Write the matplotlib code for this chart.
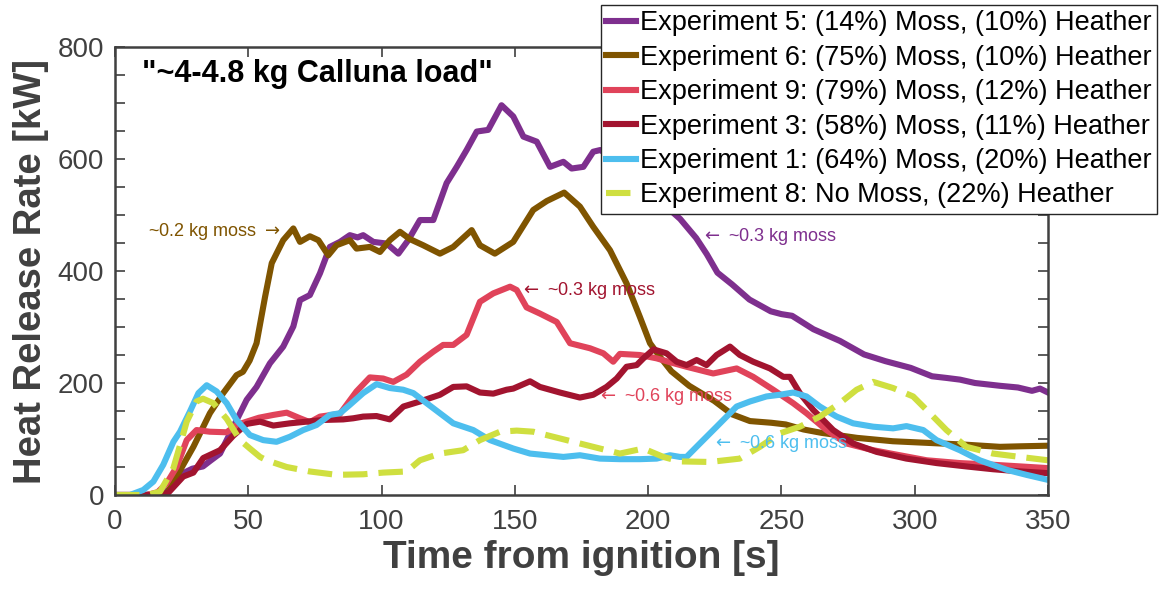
import matplotlib
matplotlib.use("Agg")
import matplotlib.pyplot as plt
from matplotlib.ticker import MultipleLocator

plt.rcParams['font.family'] = ['Liberation Sans', 'DejaVu Sans']

# Experiment 5: (14%) Moss, (10%) Heather
t5 = [0, 10, 17, 20.6, 25.6, 29, 33, 36, 39.4, 44.4, 49.4, 53.1, 58.1, 63.1, 66.9, 69.4, 73.1, 76.9,
      80.6, 84.4, 88.1, 91, 93.1, 96.9, 101.9, 106.3, 110, 114.4, 119.4, 124.4, 128.2, 131.9, 135.7,
      140, 145, 149.4, 153.2, 158.2, 163.2, 168.2, 171.3, 175.7, 179.4, 182, 188, 195, 202, 208, 212,
      218, 222, 226, 231.5, 238, 246, 250, 254, 262, 272, 281, 289, 298.5, 306.5, 312, 317, 322.6,
      332, 338.7, 344, 347, 350]
v5 = [0, 0, 2, 10, 39, 47, 51, 62, 74, 122, 170, 193, 235, 265, 301, 348, 357, 396,
      443, 452, 464, 460, 464, 452, 449, 431, 455, 491, 491, 557, 586, 616, 649,
      652, 696, 676, 640, 631, 586, 595, 583, 586, 613, 616, 600, 575, 545, 510, 493,
      459, 430, 397, 376, 349, 328, 323, 320, 296, 275, 251, 239, 227, 212, 209, 206, 200,
      195, 192, 186, 190, 183]

# Experiment 6: (75%) Moss, (10%) Heather
t6 = [0, 12, 19.4, 23.1, 29.4, 35.6, 40.6, 45.6, 48, 50.5, 53.1, 56.3, 58.8, 63.1, 66.9, 69.4, 73.1,
      76.3, 80, 83.1, 88.1, 90.6, 95.6, 99.4, 103.1, 106.9, 110.6, 115.6, 121.9, 126.9, 133.8, 136.9,
      142.5, 149.4, 156.9, 162, 168.5, 174.4, 179.4, 185.7, 191.9, 196.9, 200.7, 204.4, 208.7, 215.4,
      224.8, 231.5, 238.2, 246.2, 251.6, 258.3, 265, 278.4, 291.8, 305.2, 318.6, 332, 340, 350]
v6 = [0, 0, 2, 33, 86, 146, 182, 214, 220, 240, 271, 354, 414, 455, 476, 452, 462,
      455, 428, 446, 455, 440, 443, 434, 455, 470, 457, 446, 431, 443, 473, 446,
      431, 452, 509, 525, 540, 515, 479, 437, 378, 318, 271, 247, 221, 195,
      168, 144, 132, 129, 126, 117, 111, 102, 96, 93, 90, 86, 87, 88]

# Experiment 9: (79%) Moss, (12%) Heather
t9 = [0, 12, 16, 19.4, 23.1, 26.9, 30.6, 35.6, 41.9, 45.6, 49.4, 54, 59.4, 64.4, 69.4, 73.1, 76.9,
      84.4, 90.6, 95.6, 100.6, 104.4, 109.4, 114.4, 119.4, 123.1, 126.9, 131.9, 136.9, 141.9, 148.2,
      150.7, 154.4, 159.4, 165.7, 170.7, 178.2, 183.2, 186.9, 189.4, 196.9, 203.2, 209, 214.4, 224.4,
      233.2, 239.4, 246.9, 254.4, 259.4, 266.9, 274.4, 284.4, 294.4, 304.5, 316.9, 329.4, 350]
v9 = [0, 0, 5, 21, 50, 98, 116, 113, 112, 125, 131, 138, 143, 147, 137, 130, 140,
      145, 185, 210, 208, 202, 215, 238, 256, 268, 268, 286, 345, 360, 372,
      366, 335, 324, 309, 271, 262, 253, 238, 252, 250, 244, 236, 229, 217,
      226, 211, 188, 164, 146, 116, 92, 80, 71, 62, 57, 54, 48]

# Experiment 3: (58%) Moss, (11%) Heather
t3 = [0, 14, 20, 25.6, 29.4, 33.1, 39.4, 44.4, 49.4, 54.4, 59.4, 65.6, 71.9, 78.1, 85.6, 89.4, 93.1,
      98.1, 103.1, 108.2, 114.4, 121.9, 126.9, 131.9, 136.9, 141.9, 146.9, 149.4, 155.7, 159.4, 166.9,
      174.4, 179.4, 184.4, 188.2, 191.9, 195.7, 198.2, 202, 206.9, 210.7, 214.4, 218.2, 221.9, 225.7,
      230.7, 234.4, 239.4, 245.7, 250.7, 253.2, 256.9, 261.9, 269.4, 276.9, 285.7, 296.9, 308.2,
      319.4, 329.4, 340, 350]
v3 = [0, 0, 4, 33, 40, 66, 80, 106, 127, 131, 124, 128, 131, 134, 135, 137, 140,
      141, 135, 158, 167, 179, 193, 194, 183, 181, 188, 190, 203, 193, 183,
      174, 179, 193, 208, 229, 232, 244, 260, 253, 238, 232, 241, 232, 250,
      265, 250, 238, 226, 211, 211, 182, 152, 116, 92, 77, 65, 57,
      51, 46, 42, 39]

# Experiment 1: (64%) Moss, (20%) Heather
t1 = [0, 5.6, 10.6, 14.4, 18.1, 21.9, 24.4, 28.1, 31.3, 34.4, 38.1, 41.9, 45.6, 50.6, 55.6, 60.6,
      65.6, 70.6, 75.6, 80.6, 84.4, 88.1, 93.1, 98.1, 103.1, 108.1, 111.9, 116.9, 121.9, 126.9, 134.4,
      140.7, 149.4, 155.7, 161.9, 168.2, 174.4, 181.9, 189.4, 196.9, 203.2, 208.2, 211.9, 214.4,
      219.4, 225.7, 233.2, 238.2, 244.4, 249.4, 254.4, 259.4, 264.4, 270.7, 276.9, 284.4, 291.9,
      296.9, 303.2, 308.2, 316.9, 324.4, 334.5, 341.9, 350]
v1 = [0, 0, 9, 24, 54, 95, 113, 149, 182, 196, 185, 164, 134, 107, 98, 95,
      104, 116, 125, 143, 146, 161, 182, 198, 191, 188, 182, 164, 146, 128, 116,
      98, 83, 74, 71, 68, 71, 65, 64, 64, 65, 71, 68, 68,
      92, 122, 158, 167, 176, 179, 183, 176, 158, 140, 128, 122, 119,
      123, 116, 98, 80, 62, 45, 36, 27]

# Experiment 8: No Moss, (22%) Heather
t8 = [0, 12, 16.9, 21.9, 24.4, 26.9, 30.6, 33, 36.9, 41.9, 46.9, 50.6, 54.4, 56.9, 64.4, 73.1, 83.1,
      93.1, 100.6, 109.4, 114.4, 121.9, 130.6, 136.9, 144.4, 150.7, 156.9, 161.9, 169.4, 179.4, 189.4,
      198.2, 205.7, 211.9, 223.2, 234.4, 241.9, 249.4, 256.9, 264.4, 271.9, 278.2, 284.4, 291.9,
      299.4, 305.7, 311.9, 319.4, 329.4, 339.5, 350]
v8 = [0, 0, 6, 48, 89, 131, 167, 172, 164, 136, 98, 83, 68, 62, 50, 42, 36,
      37, 40, 42, 62, 74, 80, 98, 113, 115, 113, 107, 98, 86, 74,
      83, 68, 60, 59, 65, 86, 110, 122, 140, 164, 188, 202, 191,
      176, 146, 116, 86, 74, 68, 62]

labels = ['Experiment 5: (14%) Moss, (10%) Heather',
          'Experiment 6: (75%) Moss, (10%) Heather',
          'Experiment 9: (79%) Moss, (12%) Heather',
          'Experiment 3: (58%) Moss, (11%) Heather',
          'Experiment 1: (64%) Moss, (20%) Heather',
          'Experiment 8: No Moss, (22%) Heather']
colors = ['#7E2F8E', '#7F5400', '#E0435A', '#A2142F', '#4DBEEE', '#CFDF40']

grey = '#404040'
fig = plt.figure(figsize=(11.68, 5.9), dpi=100)
ax = fig.add_axes([115 / 1168, 1 - 495 / 590, 933 / 1168, 448 / 590])

lw = 4.4
ax.plot(t5, v5, color=colors[0], lw=lw, label=labels[0])
ax.plot(t6, v6, color=colors[1], lw=lw, label=labels[1])
ax.plot(t9, v9, color=colors[2], lw=lw, label=labels[2])
ax.plot(t3, v3, color=colors[3], lw=lw, label=labels[3])
ax.plot(t1, v1, color=colors[4], lw=lw, label=labels[4])
ax.plot(t8, v8, color=colors[5], lw=lw, label=labels[5], dashes=(4, 1.8))

ax.set_xlim(0, 350)
ax.set_ylim(0, 800)
ax.xaxis.set_major_locator(MultipleLocator(50))
ax.yaxis.set_major_locator(MultipleLocator(200))
ax.yaxis.set_minor_locator(MultipleLocator(50))
ax.tick_params(which='both', direction='in', top=True, right=True, length=7, width=1.2,
               colors=grey, labelsize=20)
ax.tick_params(axis='x', pad=10)
ax.tick_params(axis='y', pad=8)
for s in ax.spines.values():
    s.set_color(grey)
    s.set_linewidth(1.8)

ax.set_xlabel('Time from ignition [s]', fontsize=28, fontweight='bold', color=grey, labelpad=4)
ax.set_ylabel('Heat Release Rate [kW]', fontsize=27.5, fontweight='bold', color=grey, labelpad=6)

ax.text(10, 752, '"~4-4.8 kg Calluna load"', fontsize=22, fontweight='bold', va='center')

# notes on moss mass, arrows drawn with mathtext
fs = 13
ax.text(62, 471, r'~0.2 kg moss $\rightarrow$', color=colors[1], fontsize=fs, ha='right', va='center')
ax.text(220, 461, r'$\leftarrow$ ~0.3 kg moss', color=colors[0], fontsize=fs, va='center')
ax.text(152, 366, r'$\leftarrow$ ~0.3 kg moss', color=colors[3], fontsize=fs, va='center')
ax.text(181, 176, r'$\leftarrow$ ~0.6 kg moss', color=colors[2], fontsize=fs, va='center')
ax.text(224, 92, r'$\leftarrow$ ~0.6 kg moss', color=colors[4], fontsize=fs, va='center')

leg = ax.legend(loc='upper right', bbox_to_anchor=(1157 / 1168, 1 - 5 / 590),
                bbox_transform=fig.transFigure, fontsize=19.5, frameon=True, fancybox=False,
                framealpha=1, edgecolor='#262626', borderpad=0.2, labelspacing=0.31,
                handlelength=1.1, handletextpad=0.15, borderaxespad=0)
leg.get_frame().set_linewidth(1.0)

fig.savefig('out.png', dpi=100)
